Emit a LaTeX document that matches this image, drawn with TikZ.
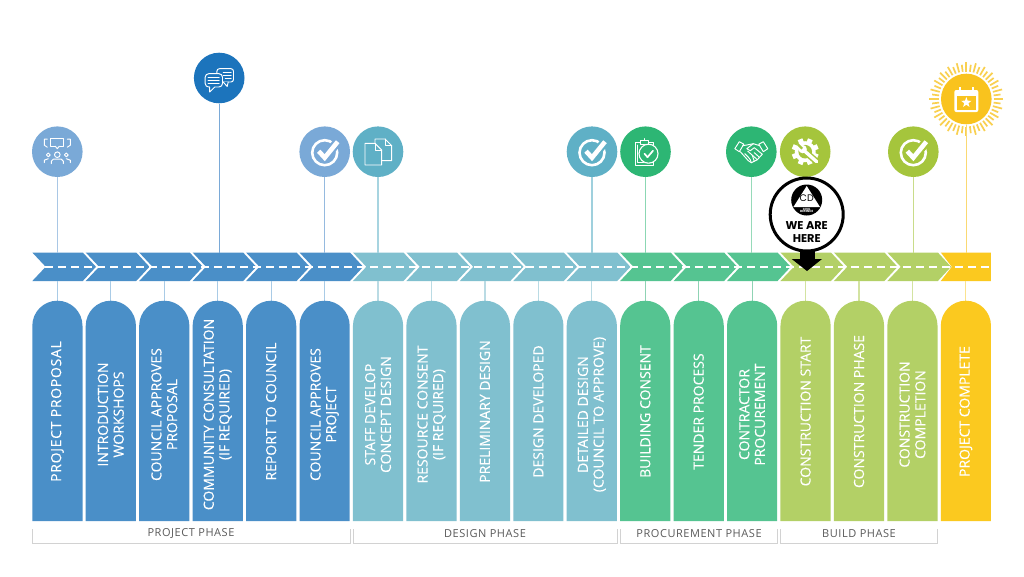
\documentclass[tikz,border=0pt]{standalone}
\usepackage{fontspec}
\setmainfont{Open Sans}
\newfontfamily\cardfont{Open Sans}[FakeBold=0.12]
\newfontfamily\herefont{Poppins}
\definecolor{pblue}{HTML}{4A8FC8}
\definecolor{pteal}{HTML}{80C0CF}
\definecolor{pgreen}{HTML}{55C491}
\definecolor{plime}{HTML}{B3D066}
\definecolor{pyellow}{HTML}{FBC91F}
\definecolor{icblue}{HTML}{7AA9D7}
\definecolor{icdark}{HTML}{1C74BC}
\definecolor{icteal}{HTML}{5FB0C6}
\definecolor{icgreen}{HTML}{2DB674}
\definecolor{iclime}{HTML}{A5C53C}
\definecolor{icyellow}{HTML}{F9C31E}
\definecolor{raycol}{HTML}{F9D050}
\definecolor{phasegrey}{HTML}{5A5A5A}
\definecolor{bracketgrey}{HTML}{D2D2D2}
\tikzset{
  x=1pt,y=-1pt,
  iconcirc/.style={circle,fill=#1,inner sep=0pt,minimum size=50.6pt},
  upstem/.style={line width=1.2pt,draw=#1},
  lowstem/.style={line width=1.2pt,draw=#1},
  cardlabel/.style={rotate=90,text=white,align=center,font=\fontsize{14}{15.7}\cardfont,inner sep=0pt},
  phaselabel/.style={text=phasegrey,font=\fontsize{11}{12}\selectfont\addfontfeature{LetterSpace=5},inner sep=0pt},
  bracketline/.style={draw=bracketgrey,line width=1pt},
  art/.style={draw=white,line width=.95pt,line join=round,line cap=round},
  pics/chkicon/.style={code={
    \draw[white,line width=2.6pt] (0,1) circle (12.5);
    \draw[#1,line width=9pt,line cap=round,line join=round] (-6,-.5) -- (0,6) -- (13,-10);
    \draw[white,line width=4.6pt,line join=miter] (-6,-.5) -- (0,6) -- (13,-10);
  }},
  pics/peopleicon/.style={code={
    \draw[art] (-6.5,-13) rectangle (6.5,-5.5);
    \draw[art,fill=icblue] (-2,-5.5) -- (0,-3) -- (2,-5.5);
    \draw[art] (-10,-12.5) -- (-13,-12.5) -- (-13,-6.5) -- (-10,-4.5);
    \draw[art] (10,-12.5) -- (13,-12.5) -- (13,-6.5) -- (10,-4.5);
    \draw[art] (0,3) circle (2.8);
    \draw[art] (-9,3.2) circle (1.9);
    \draw[art] (9,3.2) circle (1.9);
    \draw[art] (-6,12) -- (-6,9.5) -- (-4,7.5) -- (4,7.5) -- (6,9.5) -- (6,12);
    \draw[art] (-13,11) -- (-13,8.5) -- (-9,7);
    \draw[art] (13,11) -- (13,8.5) -- (9,7);
  }},
  pics/chaticon/.style={code={
    \draw[art,rounded corners=2.5pt] (-2.3,-9.3) rectangle (14.3,4);
    \draw[art,fill=icdark] (4,4) -- (8,8.5) -- (9,4);
    \draw[art,line width=.9pt] (4,-6) -- (12,-6) (4,-3) -- (12,-3) (6,0) -- (12,0);
    \draw[art,fill=icdark,rounded corners=3.5pt] (-14,-4.3) rectangle (3.3,9);
    \draw[icdark,line width=1.6pt] (-9.5,9) -- (-4.5,9);
    \draw[art] (-9.5,9) -- (-9.5,14) -- (-4.5,9);
    \draw[art,line width=1pt] (-11,-1) -- (0,-1) (-11,2.4) -- (0,2.4) (-11,5.8) -- (0,5.8);
  }},
  pics/docicon/.style={code={
    \draw[art] (-3,-12.7) -- (7,-12.7) -- (13.7,-6) -- (13.7,9) -- (-3,9) -- cycle;
    \draw[art] (7,-12.7) -- (7,-6) -- (13.7,-6);
    \draw[art,fill=icteal] (-13,-8.3) -- (-3,-8.3) -- (3.7,-1.6) -- (3.7,13.3) -- (-13,13.3) -- cycle;
    \draw[art] (-3,-8.3) -- (-3,-1.6) -- (3.7,-1.6);
  }},
  pics/clipicon/.style={code={
    \draw[art] (-10.3,-9) rectangle (8,13.3);
    \draw[art] (-7.8,-6.5) -- (-7.8,10.8) -- (-2,10.8);
    \draw[art,fill=icgreen] (-5,-11) -- (3,-11) -- (3,-7.5) -- (-5,-7.5) -- cycle;
    \draw[art] (-1,-13) -- (-1,-11);
    \draw[art,fill=icgreen,line width=1.1pt] (3,2) circle (9.5);
    \draw[art,line width=1.7pt] (-1,2) -- (2,5.5) -- (7.5,-1);
  }},
  pics/shakeicon/.style={code={
    \draw[art] (-16.5,-3) -- (-12,-10) -- (-7.5,-7.5) -- (-12,0) -- cycle;
    \draw[art] (16.5,-3) -- (12,-10) -- (7.5,-7.5) -- (12,0) -- cycle;
    \draw[art] (-8.5,-6) -- (-3,-7) -- (2,-8) -- (8.5,-6);
    \draw[art] (2,-8) -- (-4.5,-3) -- (-1,-1) -- (3,-4) -- (11,2.5);
    \draw[art] (-11,0) -- (-3,9) -- (0,11) -- (3,9.5) -- (6,8) -- (11,2.5);
    \draw[art] (-6.5,2) -- (-3,5.5) -- (-1,8) -- (0,11);
    \draw[art] (-3.5,-.5) -- (1,3.5) -- (3,9.5);
    \draw[art] (1,3.5) -- (6,8);
    \draw[art] (3,1) -- (8,5.5);
  }},
  pics/gearicon/.style={code={
    \foreach \a in {0,45,...,315}{
      \draw[white,line width=5pt] (0,0) -- (\a+22.5:13.5);
    }
    \fill[white] (0,0) circle (10.5);
    \fill[iclime] (0,0) circle (6.8);
    \draw[iclime,line width=6.4pt] (0,0) -- (12,10.5);
    \draw[white,line width=3.4pt,line cap=round] (-1,-1) -- (11.5,10);
    \fill[white] (-2.6,-2.6) circle (4.2);
    \draw[iclime,line width=2.4pt] (-3,-3) -- (-7.5,-7.5);
  }},
  pics/calicon/.style={code={
    \fill[white,rounded corners=2pt] (-12,-9) rectangle (12,13);
    \draw[white,line width=2pt] (-6.5,-12) -- (-6.5,-8) (6.5,-12) -- (6.5,-8);
    \fill[icyellow] (-9.5,-3) rectangle (9.5,10.5);
    \fill[white] (0,-2) -- (1.3,1.7) -- (5.2,1.8) -- (2.1,4.2) -- (3.2,7.9) -- (0,5.7) -- (-3.2,7.9) -- (-2.1,4.2) -- (-5.2,1.8) -- (-1.3,1.7) -- cycle;
  }},
}
\begin{document}
\begin{tikzpicture}
\useasboundingbox (0,0) rectangle (1024,576);
\fill[white] (0,0) rectangle (1024,576);

% columns: chevrons and cards
\foreach \i/\c/\lc/\y/\t in {
 0/pblue/A9CBE6/411.5/{\addfontfeature{LetterSpace=5}PROJECT PROPOSAL},
 1/pblue/A9CBE6/414.5/{INTRODUCTION\\WORKSHOPS},
 2/pblue/A9CBE6/414.5/{COUNCIL APPROVES\\PROPOSAL},
 3/pblue/A9CBE6/414.5/{COMMUNITY CONSULTATION\\(IF REQUIRED)},
 4/pblue/A9CBE6/411.5/{REPORT TO COUNCIL},
 5/pblue/A9CBE6/414.5/{COUNCIL APPROVES\\PROJECT},
 6/pteal/BADBE4/414.5/{STAFF DEVELOP\\CONCEPT DESIGN},
 7/pteal/BADBE4/414.5/{RESOURCE CONSENT\\(IF REQUIRED)},
 8/pteal/BADBE4/411.5/{PRELIMINARY DESIGN},
 9/pteal/BADBE4/411.5/{DESIGN DEVELOPED},
 10/pteal/BADBE4/414.5/{DETAILED DESIGN\\(COUNCIL TO APPROVE)},
 11/pgreen/8FD3B4/411.5/{BUILDING CONSENT},
 12/pgreen/8FD3B4/411.5/{TENDER PROCESS},
 13/pgreen/8FD3B4/414.5/{CONTRACTOR\\PROCUREMENT},
 14/plime/D3E3A1/411.5/{CONSTRUCTION START},
 15/plime/D3E3A1/411.5/{CONSTRUCTION PHASE},
 16/plime/D3E3A1/414.5/{CONSTRUCTION\\COMPLETION},
 17/pyellow/FBE38F/411.5/{PROJECT COMPLETE}}{
  \pgfmathsetmacro{\xl}{32.3+53.44*\i}
  \pgfmathsetmacro{\xc}{\xl+25.1}
  \pgfmathsetmacro{\xr}{\xl+50.2}
  \coordinate (bt\i) at (\xc,252.5);
  \coordinate (bb\i) at (\xc,281);
  \coordinate (ct\i) at (\xc,300.7);
  \ifnum\i<17
    \fill[\c] (\xl,252.5) -- (\xl+50.5,252.5) -- (\xl+63.7,266.8) -- (\xl+50.5,281) -- (\xl,281) -- (\xl+13.4,266.8) -- cycle;
  \else
    \fill[\c] (\xl,252.5) -- (\xr,252.5) -- (\xr,281) -- (\xl,281) -- (\xl+11,266.8) -- cycle;
  \fi
  \definecolor{lowc}{HTML}{\lc}
  \draw[lowstem=lowc] (bb\i) -- (ct\i);
  \fill[\c] (\xl,521) -- (\xl,325.8) arc[start angle=180,end angle=360,radius=25.1] -- (\xr,521) -- cycle;
  \node[cardlabel] (card\i) at (\xc,\y) {\t};
}
% dashed centre line
\coordinate (dashA) at (45,267);
\coordinate (dashB) at (990,267);
\draw[white,line width=1.25pt,dash pattern=on 8pt off 5pt] (dashA) -- (dashB);

% icon circles
\node[iconcirc=icblue] (ic1) at (57.3,151.7) {};
\node[iconcirc=icdark] (ic2) at (219.2,78) {};
\node[iconcirc=icblue] (ic3) at (324.7,151.7) {};
\node[iconcirc=icteal] (ic4) at (378,151.7) {};
\node[iconcirc=icteal] (ic5) at (592,151.7) {};
\node[iconcirc=icgreen] (ic6) at (645.5,151.7) {};
\node[iconcirc=icgreen] (ic7) at (751.3,151.7) {};
\node[iconcirc=iclime] (ic8) at (805.2,151.7) {};
\node[iconcirc=iclime] (ic9) at (913.3,151.7) {};

% stems above the band
\draw[upstem=icblue!65] (ic1) -- (ic1 |- bt0);
\draw[upstem=icblue] (ic2) -- (ic2 |- bt0);
\draw[upstem=icblue!80] (ic3) -- (ic3 |- bt0);
\draw[upstem=icteal!55] (ic4) -- (ic4 |- bt0);
\draw[upstem=icteal!60] (ic5) -- (ic5 |- bt0);
\draw[upstem=icgreen!55] (ic6) -- (ic6 |- bt0);
\draw[upstem=icgreen!50] (ic7) -- (ic7 |- bt0);
\draw[upstem=iclime!60] (ic9) -- (ic9 |- bt0);

% sun
\foreach \a in {0,7.5,...,352.5}{
  \pgfmathsetmacro{\rr}{mod(\a,15)==0 ? 37 : 34.5}
  \draw[raycol,line width=1.7pt] (966.3,99) ++(\a:27.5) -- ++(\a:\rr-27.5);
}
\node[iconcirc=icyellow] (ic10) at (966.3,99) {};
\draw[upstem=raycol!80] (ic10) -- (ic10 |- bt0);

% icon art
\pic at (ic1.center) {peopleicon};
\pic at (ic2.center) {chaticon};
\pic at (ic3.center) {chkicon=icblue};
\pic at (ic4.center) {docicon};
\pic at (ic5.center) {chkicon=icteal};
\pic at (ic6.center) {clipicon};
\pic at (ic7.center) {shakeicon};
\pic at (ic8.center) {gearicon};
\pic at (ic9.center) {chkicon=iclime};
\pic at (ic10.center) {calicon};

% we are here marker
\fill[black] (799.5,248) rectangle (814.5,260);
\fill[black] (791.7,259) -- (822,259) -- (807,271) -- cycle;
\node[circle,draw=black,fill=white,line width=3pt,inner sep=0pt,minimum size=73pt] (here) at (806.7,214.5) {};
\node[circle,fill=black,inner sep=0pt,minimum size=31pt] (logo) at (806.7,200) {};
\fill[white] (806.7,186) -- (820,207) -- (793.4,207) -- cycle;
\node[inner sep=0pt,text=black,font=\fontsize{9.5}{10}\herefont] (cdtext) at (806.7,198.5) {CD};
\node[inner sep=0pt,text=white,font=\fontsize{3}{3}\herefont\bfseries,align=center] (cdname) at (806.7,210.5) {CIVIL\\[-.6pt]DEFENCE};
\node[inner sep=0pt,text=black,font=\fontsize{11.3}{12.4}\herefont\bfseries,align=center] (heretext) at (806.7,232) {WE ARE\\HERE};

% phase brackets
\draw[bracketline] (32.5,529) -- (32.5,543) -- (350,543) -- (350,529);
\draw[bracketline] (353.5,529) -- (353.5,543) -- (617,543) -- (617,529);
\draw[bracketline] (620.5,529) -- (620.5,543) -- (777.5,543) -- (777.5,529);
\draw[bracketline] (780.5,529) -- (780.5,543) -- (937.5,543) -- (937.5,529);
\node[phaselabel] (ph1) at (191,533.5) {PROJECT PHASE};
\node[phaselabel] (ph2) at (485,533.5) {DESIGN PHASE};
\node[phaselabel] (ph3) at (699,533.5) {PROCUREMENT PHASE};
\node[phaselabel] (ph4) at (859,533.5) {BUILD PHASE};
\end{tikzpicture}
\end{document}
